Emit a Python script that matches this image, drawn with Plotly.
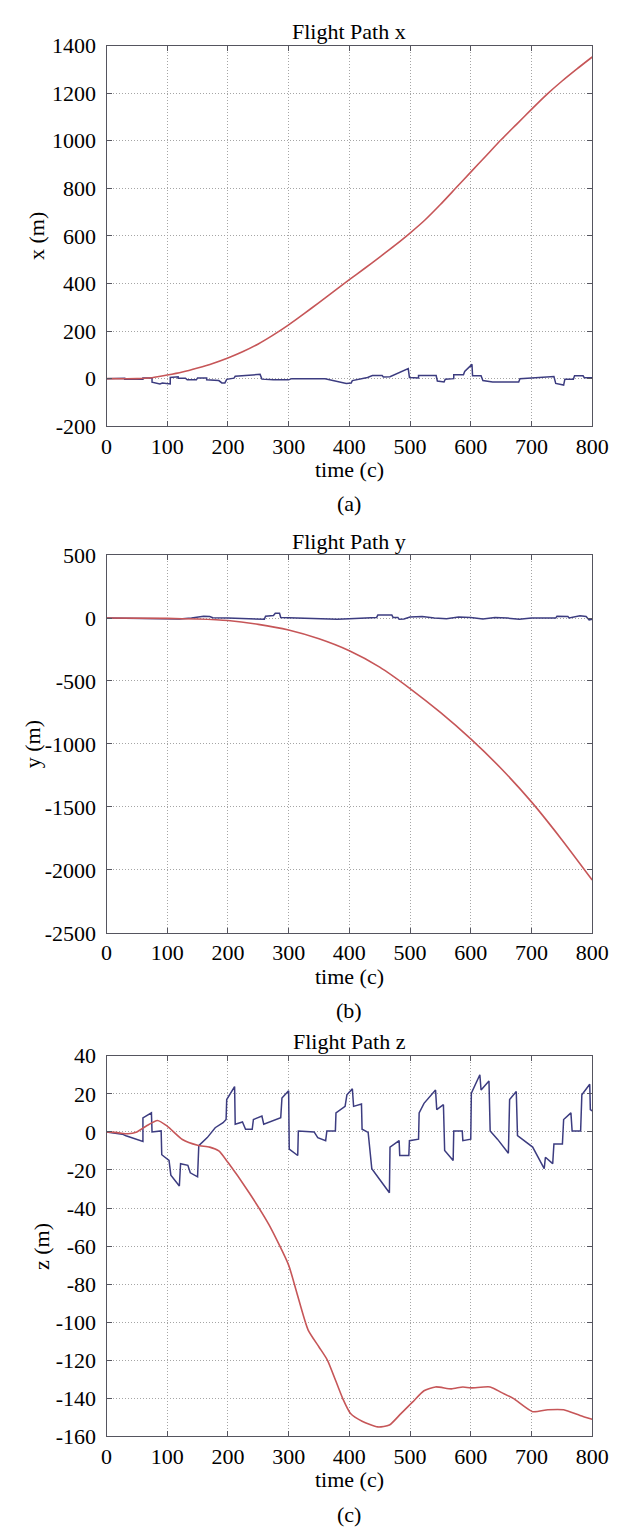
import plotly.graph_objects as go

W, H = 632, 1527

# ---------------- data ----------------
# Panel (a): Flight Path x
t_ax_red = [0, 50, 75, 100, 125, 150, 175, 200, 225, 250, 275, 300, 325, 350, 375, 400,
            425, 450, 475, 500, 525, 550, 575, 600, 625, 650, 675, 700, 725, 750, 775, 800]
x_red = [0, 0, 4, 15, 28, 45, 64, 87, 114, 146, 184, 226, 272, 320, 368, 416,
         463, 511, 560, 612, 668, 732, 800, 868, 936, 1004, 1068, 1132, 1194, 1250, 1302, 1352]

t_ax_blue = [0, 15, 15, 30, 30, 60, 60, 75, 75, 88, 92, 100, 105, 105, 118, 118, 130, 133, 148, 150,
             165, 165, 185, 190, 195, 198, 210, 212, 222, 225, 253, 256, 275, 300, 305, 360, 380, 395,
             403, 405, 430, 438, 454, 456, 467, 497, 499, 514, 514, 543, 545, 556, 558, 572, 572, 588,
             590, 602, 603, 617, 620, 636, 679, 681, 700, 737, 740, 753, 755, 769, 771, 785, 787, 800]
x_blue = [0, 0, 2, 2, -3, -3, 3, 3, -15, -22, -18, -22, -22, 5, 8, 2, 2, -5, -5, 3,
          3, -5, -8, -18, -18, -3, 2, 10, 12, 15, 18, -2, -5, -5, 0, 0, -12, -20,
          -18, -8, 5, 13, 13, 7, 8, 42, 5, 3, 13, 13, -10, -14, -2, 0, 16, 16,
          30, 60, 12, 12, -8, -14, -14, 0, 3, 9, -20, -27, -3, -3, 12, 12, 4, 4]

# Panel (b): Flight Path y
t_by_red = [0, 100, 150, 200, 250, 300, 350, 400, 450, 500, 550, 600, 650, 700, 750, 800]
y_red = [0, -3, -8, -20, -50, -95, -165, -260, -390, -560, -750, -960, -1195, -1460, -1760, -2080]

t_by_blue = [0, 60, 100, 120, 140, 150, 160, 170, 175, 200, 230, 260, 262, 275, 278, 285, 287, 320,
             350, 380, 400, 430, 445, 447, 470, 472, 480, 482, 490, 500, 520, 540, 560, 580, 600,
             620, 640, 660, 680, 700, 740, 742, 760, 762, 780, 790, 795, 800]
y_blue = [0, -3, -5, -8, 0, 8, 15, 12, 2, 0, -5, -10, 15, 20, 38, 38, 5, 0,
          -5, -10, -5, 0, 5, 25, 25, 5, 5, -10, -8, 8, 12, 0, -5, 8, 5,
          -8, 5, 0, -10, 0, 0, 15, 12, 0, 18, 12, -15, -10]

# Panel (c): Flight Path z
t_cz_red = [0, 20, 35, 50, 65, 84, 100, 125, 150, 170, 185, 200, 235, 268, 300, 313, 332, 350,
            364, 389, 402, 421, 447, 466, 485, 504, 523, 542, 568, 587, 600, 632, 651, 670,
            702, 727, 753, 780, 800]
z_red = [0, -0.5, -1, 0, 3, 6, 3, -4, -7, -8, -10, -16, -32, -49, -70, -84, -104, -113,
         -120, -140, -148, -152, -155, -154, -148, -142, -136, -134, -135, -134, -134.5, -134, -137, -140,
         -147, -146, -146, -149, -151]

t_cz_blue = [0, 26, 32, 58, 60, 60, 74, 75, 90, 91, 103, 106, 120, 122, 134, 138, 150, 152, 166, 179,
             192, 197, 198, 211, 212, 224, 229, 240, 242, 256, 259, 287, 289, 300, 301, 315, 316, 342,
             348, 361, 363, 377, 378, 393, 396, 405, 407, 420, 421, 431, 437, 450, 466, 467, 482, 483,
             498, 499, 514, 515, 523, 542, 544, 555, 557, 571, 572, 586, 587, 600, 601, 615, 617, 630,
             632, 644, 662, 664, 675, 677, 702, 721, 723, 735, 737, 751, 753, 765, 767, 781, 783, 796,
             797, 800]
z_blue = [0, -1.2, -2, -4.6, -5, 7.4, 10, 0, 0.5, -12, -15, -22.7, -28.4, -16.7, -17.6, -21.5, -23.6, -7.2, -3, 2.2,
          4.8, 6.5, 17, 23.8, 4, 5.2, 1.4, 1.4, 6.5, 8.3, 4, 7.4, 17.8, 21.6, -9, -12.4, 0.5, 0,
          -3, -4.6, 0.5, 0.5, 10, 13.4, 19.5, 22.6, 13.4, 14.6, 1.4, -0.3, -19.3, -25, -32, -8, -4.6, -12.4,
          -12.4, -4.6, -3.8, 10, 15, 22, 11.7, 14.3, -9.8, -15, 0.5, 0.5, -4.6, -3.8, 20.3, 30, 22, 26.7,
          0.5, -3.8, -11.2, 17, 21.2, -2, -8, -19.3, -13.3, -16.7, -6.4, -6.4, 6.5, 10, 0.5, 0.5, 19.5, 25,
          11.7, 11]

x_ticks = [0, 100, 200, 300, 400, 500, 600, 700, 800]
ya_ticks = [-200, 0, 200, 400, 600, 800, 1000, 1200, 1400]
yb_ticks = [-2500, -2000, -1500, -1000, -500, 0, 500]
yc_ticks = [-160, -140, -120, -100, -80, -60, -40, -20, 0, 20, 40]

titles = ["Flight Path x", "Flight Path y", "Flight Path z"]
ylabels = ["x (m)", "y (m)", "z (m)"]
xlabel = "time (c)"
captions = ["(a)", "(b)", "(c)"]

# ---------------- style ----------------
RED = "rgb(198,86,88)"
BLUE = "rgb(60,60,128)"
SPINE = "rgb(85,85,95)"
GRID = "rgb(165,165,165)"
FONT = "Liberation Serif"
FS = 22

# pixel geometry
x_left, x_right = 96, 600
panels = [(26, 413), (544, 928), (1053, 1440)]
ylab_x = [24, 20, 28]


def py(p):
    return 1 - p / H


def px(p):
    return p / W


fig = go.Figure()

series = [
    (t_ax_blue, x_blue, t_ax_red, x_red, ya_ticks),
    (t_by_blue, y_blue, t_by_red, y_red, yb_ticks),
    (t_cz_blue, z_blue, t_cz_red, z_red, yc_ticks),
]

tfont = dict(family=FONT, size=FS, color="black")

for i, (tb, vb, tr, vr, yt) in enumerate(series):
    xa = "x" if i == 0 else f"x{i+1}"
    ya = "y" if i == 0 else f"y{i+1}"
    fig.add_trace(go.Scatter(x=tb, y=vb, mode="lines", line=dict(color=BLUE, width=1.5),
                             xaxis=xa, yaxis=ya, showlegend=False))
    fig.add_trace(go.Scatter(x=tr, y=vr, mode="lines", line=dict(color=RED, width=1.6, shape="spline", smoothing=0.6),
                             xaxis=xa, yaxis=ya, showlegend=False))
    top, bot = panels[i]
    axkey = "xaxis" if i == 0 else f"xaxis{i+1}"
    aykey = "yaxis" if i == 0 else f"yaxis{i+1}"
    common = dict(showline=True, linecolor=SPINE, linewidth=1.3, mirror="ticks",
                  ticks="inside", ticklen=5, tickcolor=SPINE, tickwidth=1.3,
                  showgrid=True, gridcolor=GRID, griddash="1px,2px", gridwidth=1,
                  zeroline=False, tickfont=tfont)
    fig.update_layout({
        axkey: dict(domain=[px(x_left), px(x_right)], range=[0, 800], tickmode="array",
                    tickvals=x_ticks, ticktext=[str(v) for v in x_ticks],
                    anchor=ya, **common),
        aykey: dict(domain=[py(bot), py(top)], range=[yt[0], yt[-1]], tickmode="array",
                    tickvals=yt, ticktext=[str(v) for v in yt],
                    anchor=xa, ticklabelstandoff=5, **common),
    })
    cx = px((x_left + x_right) / 2)
    fig.add_annotation(text=titles[i], x=cx, y=py(top - 14), xref="paper", yref="paper",
                       showarrow=False, font=tfont, xanchor="center", yanchor="middle")
    fig.add_annotation(text=xlabel, x=cx, y=py(bot + 44), xref="paper", yref="paper",
                       showarrow=False, font=tfont, xanchor="center", yanchor="middle")
    fig.add_annotation(text=captions[i], x=cx, y=py(bot + 79), xref="paper", yref="paper",
                       showarrow=False, font=tfont, xanchor="center", yanchor="middle")
    fig.add_annotation(text=ylabels[i], x=px(ylab_x[i]), y=py((top + bot) / 2), xref="paper", yref="paper",
                       showarrow=False, textangle=-90, font=tfont, xanchor="center", yanchor="middle")

fig.update_layout(width=W, height=H, margin=dict(l=0, r=0, t=0, b=0),
                  font=dict(family=FONT, size=FS, color="black"),
                  paper_bgcolor="white", plot_bgcolor="white", showlegend=False)

fig.write_html("out.html")
